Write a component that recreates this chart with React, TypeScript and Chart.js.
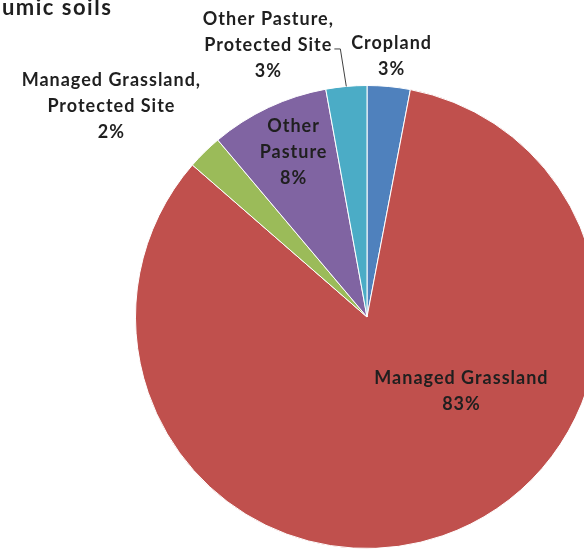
import React, { useEffect, useRef } from "react";
import { Chart, registerables } from "chart.js";

Chart.register(...registerables);

// Share of land use on humic soils, in percent
const categories = [
  "Cropland",
  "Managed Grassland",
  "Managed Grassland, Protected Site",
  "Other Pasture",
  "Other Pasture, Protected Site",
];
const shares = [3.0, 83.4, 2.45, 8.3, 2.85];
const sliceColors = ["#4F81BD", "#C0504D", "#9BBB59", "#8064A2", "#4BACC6"];
const labelLines = [
  ["Cropland"],
  ["Managed Grassland"],
  ["Managed Grassland,", "Protected Site"],
  ["Other", "Pasture"],
  ["Other Pasture,", "Protected Site"],
];
// label placement: angle shift from the slice middle (degrees) and distance as a fraction of the radius
const labelShift = [0, -32.6, -6, 1.2, -14.8];
const labelDistance = [1.13, 0.52, 1.43, 0.78, 1.25];
const leaderLine = [false, false, false, false, true];

const FONT = "bold 18px Lato";
const LINE_H = 26;
const TEXT_COLOR = "#1f1f1f";

const sliceLabels = {
  id: "sliceLabels",
  afterDatasetsDraw(chart: any) {
    const ctx = chart.ctx;
    const meta = chart.getDatasetMeta(0);
    const data = chart.data.datasets[0].data as number[];
    const total = data.reduce((a, b) => a + b, 0);
    ctx.save();
    ctx.font = FONT;
    (ctx as any).letterSpacing = "1px";
    ctx.fillStyle = TEXT_COLOR;
    ctx.textAlign = "center";
    ctx.textBaseline = "middle";
    meta.data.forEach((arc: any, i: number) => {
      const { x, y, startAngle, endAngle, outerRadius } = arc.getProps(
        ["x", "y", "startAngle", "endAngle", "outerRadius"],
        true
      );
      const mid = (startAngle + endAngle) / 2;
      const a = mid + (labelShift[i] * Math.PI) / 180;
      const cx = x + Math.cos(a) * outerRadius * labelDistance[i];
      const cy = y + Math.sin(a) * outerRadius * labelDistance[i];
      const lines = [...labelLines[i], Math.round((data[i] / total) * 100) + "%"];
      const top = cy - ((lines.length - 1) * LINE_H) / 2;
      lines.forEach((t, k) => ctx.fillText(t, cx, top + k * LINE_H));
      if (leaderLine[i]) {
        const w = ctx.measureText(lines[lines.length - 2]).width;
        const ly = top + (lines.length - 2) * LINE_H + 4;
        const lx = cx + w / 2 + 2;
        const ex = x + Math.cos(mid) * outerRadius;
        const ey = y + Math.sin(mid) * outerRadius;
        ctx.strokeStyle = "#404040";
        ctx.lineWidth = 1;
        ctx.beginPath();
        ctx.moveTo(lx, ly);
        ctx.lineTo(lx + 6, ly);
        ctx.lineTo(ex, ey);
        ctx.stroke();
      }
    });
    ctx.restore();
  },
};

export default function App() {
  const ref = useRef<HTMLCanvasElement>(null);
  useEffect(() => {
    if (!ref.current) return;
    const chart = new Chart(ref.current, {
      type: "pie",
      data: {
        labels: categories,
        datasets: [
          {
            data: shares,
            backgroundColor: sliceColors,
            borderColor: "#ffffff",
            borderWidth: 1,
          },
        ],
      },
      options: {
        animation: false,
        responsive: false,
        devicePixelRatio: 1,
        layout: { padding: { left: 135, top: 85, right: 41, bottom: 51 } },
        plugins: {
          legend: { display: false },
          tooltip: { enabled: false },
          title: { display: false },
        },
      },
      plugins: [sliceLabels],
    });
    return () => chart.destroy();
  }, []);

  return (
    <div
      style={{
        position: "fixed",
        left: 0,
        top: 0,
        width: 584,
        height: 554,
        overflow: "hidden",
        background: "#ffffff",
      }}
    >
      <canvas ref={ref} width={640} height={600} style={{ position: "absolute", left: 0, top: 0 }} />
      <div
        style={{
          position: "absolute",
          left: -12,
          top: -7,
          font: "bold 22px Lato",
          letterSpacing: "1.5px",
          color: TEXT_COLOR,
          whiteSpace: "nowrap",
        }}
      >
        humic soils
      </div>
    </div>
  );
}
